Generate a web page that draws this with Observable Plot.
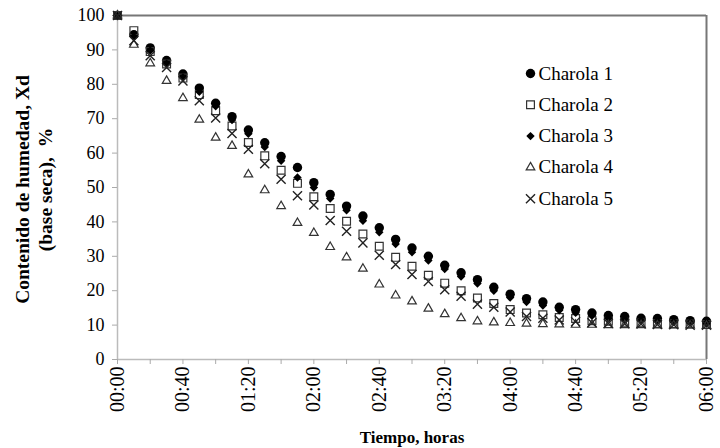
<!DOCTYPE html>
<html><head><meta charset="utf-8">
<script src="https://cdn.jsdelivr.net/npm/d3@7"></script>
<script src="https://cdn.jsdelivr.net/npm/@observablehq/plot@0.6"></script>
<style>body{margin:0;background:#fff} svg text{font-family:"Liberation Serif","Times New Roman",serif !important;}</style>
</head><body><div id="chart"></div>
<script>
const minutes = [0,10,20,30,40,50,60,70,80,90,100,110,120,130,140,150,160,170,180,190,200,210,220,230,240,250,260,270,280,290,300,310,320,330,340,350,360];
const charola1 = [100,94.4,90.6,86.9,83.0,78.9,74.5,70.6,66.7,63.0,59.0,55.8,51.4,48.0,44.6,41.7,38.3,34.9,32.4,30.0,27.4,25.2,23.2,21.0,19.0,17.7,16.7,15.2,14.5,13.5,12.8,12.5,12.0,11.9,11.6,11.3,11.1];
const charola2 = [100,95.6,89.5,85.9,81.8,77.0,72.3,67.9,63.1,59.2,55.0,51.2,47.3,43.9,40.2,36.5,32.9,29.7,27.1,24.5,22.2,20.0,17.9,16.3,14.5,13.5,13.0,12.2,11.9,11.3,11.1,10.8,10.6,10.5,10.4,10.3,10.2];
const charola3 = [100,93.8,89.8,86.0,82.0,77.8,73.6,69.6,65.6,61.8,57.8,52.9,50.0,46.8,43.4,40.3,37.0,33.6,31.2,28.8,26.3,24.1,22.1,20.0,18.0,16.7,15.7,14.3,13.6,12.7,12.0,11.7,11.3,11.1,10.9,10.7,10.6];
const charola4 = [100,91.5,86.1,81.0,76.0,69.7,64.5,62.1,53.8,49.2,44.6,39.7,36.8,32.7,29.7,26.4,21.8,18.6,16.9,14.8,13.2,12.0,11.1,10.8,10.6,10.4,10.3,10.2,10.1,10.1,10.0,10.0,10.0,9.9,9.9,9.9,9.8];
const charola5 = [100,92.7,88.3,84.9,81.0,75.2,70.2,65.7,61.1,56.9,52.4,47.6,44.9,40.4,37.3,33.9,30.3,27.6,24.7,22.7,20.3,18.4,16.1,15.2,13.8,12.5,12.0,11.5,11.0,10.7,10.5,10.4,10.3,10.2,10.1,10.0,10.0];
const seriesNames = ["Charola 1","Charola 2","Charola 3","Charola 4","Charola 5"];
const yTicks = [0,10,20,30,40,50,60,70,80,90,100];
const xMinorTicks = [0,20,40,60,80,100,120,140,160,180,200,220,240,260,280,300,320,340,360];
const xLabelTicks = [0,40,80,120,160,200,240,280,320,360];

const seriesValues = [charola1, charola2, charola3, charola4, charola5];
const rows = [];
seriesNames.forEach((s, i) => minutes.forEach((t, j) => rows.push({t, v: seriesValues[i][j], s})));

const FONT = "'Liberation Serif', 'Times New Roman', serif";
const styles = [
  {symbol: "circle", fill: "#000", stroke: "none", r: 4.7},
  {symbol: "square", fill: "none", stroke: "#333", strokeWidth: 1.2, r: 4.4},
  {symbol: "diamond2", fill: "#000", stroke: "none", r: 3.8},
  {symbol: "triangle", fill: "none", stroke: "#333", strokeWidth: 1.2, r: 3.2},
  {symbol: "times", fill: "none", stroke: "#222", strokeWidth: 1.4, r: 4.2}
];
const fmt = m => String(Math.floor(m / 60)).padStart(2, "0") + ":" + String(m % 60).padStart(2, "0");

const marks = [
  Plot.ruleY([100], {stroke: "#777", strokeWidth: 2}),
  Plot.ruleX([360], {stroke: "#777", strokeWidth: 2}),
  Plot.ruleX([0], {stroke: "#bbb", strokeWidth: 1.5}),
  Plot.ruleY([0], {stroke: "#bbb", strokeWidth: 1.5}),
  Plot.axisY({ticks: yTicks, tickSize: 5, tickPadding: 8, stroke: "#aaa", fill: "#000", fontSize: 18, fontFamily: FONT, label: null}),
  Plot.axisX({ticks: xMinorTicks, tickSize: 5, tickFormat: () => "", stroke: "#aaa", label: null}),
  Plot.axisX({ticks: xLabelTicks, tickSize: 0, tickPadding: 7, tickRotate: -90, tickFormat: fmt, fill: "#000", fontSize: 20, fontFamily: FONT, label: null}),
];
seriesNames.forEach((s, i) => {
  marks.push(Plot.dot(rows.filter(d => d.s === s), {x: "t", y: "v", ...styles[i]}));
});
seriesNames.forEach((s, i) => {
  marks.push(Plot.dot([s], {frameAnchor: "top-left", dx: 413, dy: 58 + i * 31.3, ...styles[i]}));
  marks.push(Plot.text([s], {frameAnchor: "top-left", dx: 421, dy: 58 + i * 31.3, text: d => d, textAnchor: "start", lineAnchor: "middle", fontSize: 19, fontFamily: FONT, fill: "#000"}));
});
marks.push(Plot.text(["Tiempo, horas"], {frameAnchor: "bottom", dy: 78, text: d => d, textAnchor: "middle", lineAnchor: "middle", fontWeight: "bold", fontSize: 17, fontFamily: FONT, fill: "#000"}));
marks.push(Plot.text(["Contenido de humedad, Xd"], {frameAnchor: "left", dx: -95, dy: 2, rotate: -90, text: d => d, textAnchor: "middle", lineAnchor: "middle", fontWeight: "bold", fontSize: 19.5, fontFamily: FONT, fill: "#000"}));
marks.push(Plot.text(["(base seca),  %"], {frameAnchor: "left", dx: -72, dy: 2, rotate: -90, text: d => d, textAnchor: "middle", lineAnchor: "middle", fontWeight: "bold", fontSize: 19.5, fontFamily: FONT, fill: "#000"}));

const chart = Plot.plot({
  width: 720, height: 448,
  marginLeft: 117, marginRight: 14, marginTop: 15, marginBottom: 89,
  style: {fontFamily: FONT, fontSize: "18px", background: "#fff", overflow: "visible"},
  x: {domain: [0, 360], label: null},
  y: {domain: [0, 100], label: null},
  marks
});
document.getElementById("chart").appendChild(chart);
</script>
</body></html>
